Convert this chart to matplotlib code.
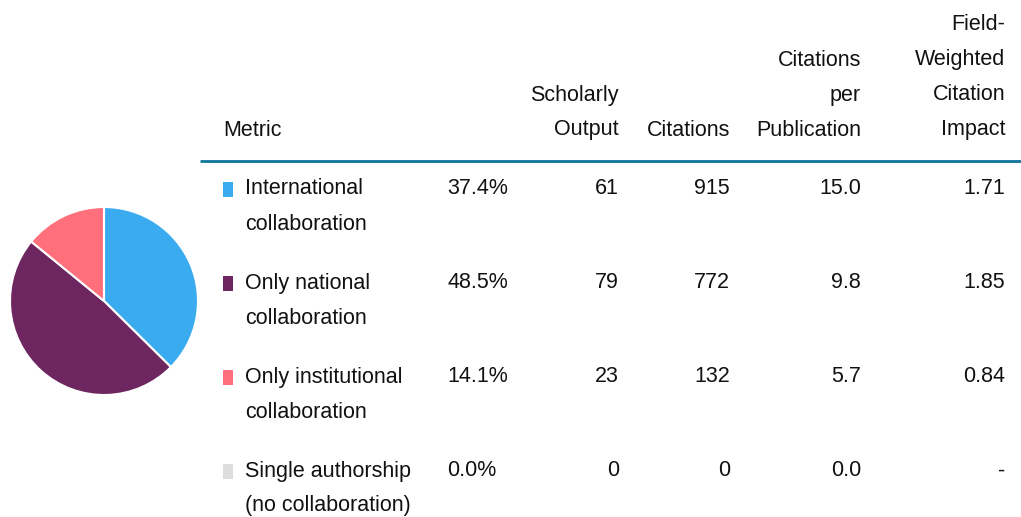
import matplotlib.pyplot as plt
from matplotlib.patches import Rectangle

plt.rcParams['font.family'] = ['Liberation Sans', 'DejaVu Sans']

# data
metrics = [['International', 'collaboration'], ['Only national', 'collaboration'],
           ['Only institutional', 'collaboration'], ['Single authorship', '(no collaboration)']]
shares = [37.4, 48.5, 14.1, 0.0]
scholarly_output = [61, 79, 23, 0]
citations = [915, 772, 132, 0]
cites_per_pub = [15.0, 9.8, 5.7, 0.0]
fwci = ['1.71', '1.85', '0.84', '-']
colors = ['#3babf0', '#6e2660', '#ff6f7c', '#dddddd']

headers = [['Scholarly', 'Output'], ['Citations'], ['Citations', 'per', 'Publication'],
           ['Field-', 'Weighted', 'Citation', 'Impact']]

W, H = 1021, 517
fig = plt.figure(figsize=(W / 100, H / 100), dpi=100)

# pie
pax = fig.add_axes([10 / W, 1 - 395 / H, 188 / W, 188 / H])
vals = [s for s in shares if s > 0]
pax.pie(vals, colors=colors[:len(vals)], startangle=90, counterclock=False,
        wedgeprops=dict(edgecolor='white', linewidth=1.5))
pax.set_xlim(-1, 1)
pax.set_ylim(-1, 1)
pax.set_aspect('equal')

# table
ax = fig.add_axes([0, 0, 1, 1])
ax.set_xlim(0, W)
ax.set_ylim(H, 0)
ax.axis('off')

txt = dict(fontsize=15.5, color='#111111')
lh = 35

ax.text(223, 130, 'Metric', ha='left', va='center', **txt)
col_right = [619, 730, 861, 1005]
for x, h in zip(col_right, headers):
    for k, line in enumerate(reversed(h)):
        ax.text(x, 130 - k * lh, line, ha='right', va='center', **txt)

ax.plot([200, W], [161, 161], color='#0e769b', lw=2, solid_capstyle='butt')

row_y = [189, 283, 377, 471]
for i, y in enumerate(row_y):
    ax.add_patch(Rectangle((223, y - 7), 10, 15, color=colors[i], lw=0))
    for k, line in enumerate(metrics[i]):
        ax.text(245, y + k * lh, line, ha='left', va='center', **txt)
    ax.text(447, y, f'{shares[i]:.1f}%', ha='left', va='center', **txt)
    ax.text(col_right[0], y, f'{scholarly_output[i]}', ha='right', va='center', **txt)
    ax.text(col_right[1], y, f'{citations[i]}', ha='right', va='center', **txt)
    ax.text(col_right[2], y, f'{cites_per_pub[i]:.1f}', ha='right', va='center', **txt)
    ax.text(col_right[3], y, fwci[i], ha='right', va='center', **txt)

fig.savefig('out.png', dpi=100)
